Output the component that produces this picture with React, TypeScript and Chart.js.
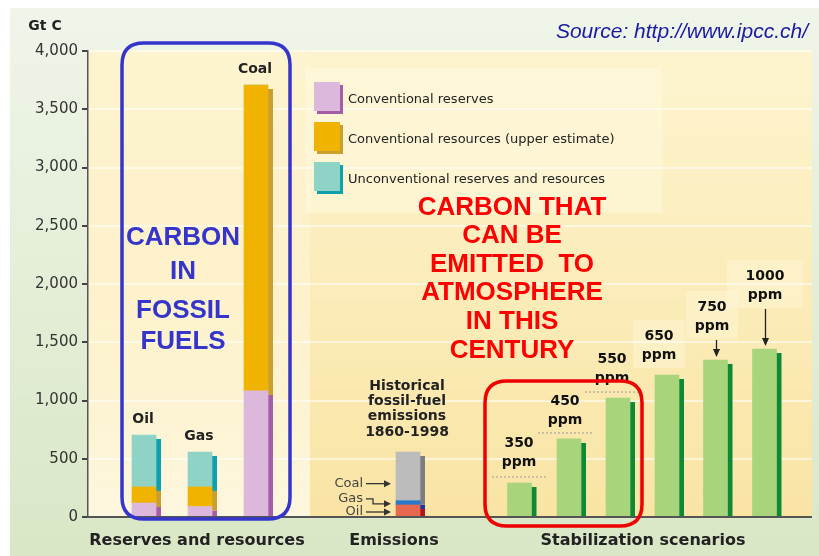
import { useEffect, useRef } from "react";
import { Chart, registerables } from "chart.js";

Chart.register(...registerables);

// ---------- DATA ----------
const fuelLabels = ["Oil", "Gas", "Coal"];
const fuelX = [5.6, 11.2, 16.8];
const conventionalReserves = [120, 90, 1082];
const conventionalResources = [138, 168, 2626];
const unconventional = [446, 300, 0];

const legendLabels = [
  "Conventional reserves",
  "Conventional resources (upper estimate)",
  "Unconventional reserves and resources",
];

const emissionsX = [32];
const histOil = [103];
const histGas = [37];
const histCoal = [418];
const histLabels = ["Coal", "Gas", "Oil"];
const histTitle = ["Historical", "fossil-fuel", "emissions", "1860-1998"];

const scenarioLabels = ["350", "450", "550", "650", "750", "1000"];
const scenarioX = [43.15, 48.1, 53.0, 57.9, 62.75, 67.65];
const scenarioValues = [292, 670, 1021, 1219, 1348, 1442];

const yTicks = [0, 500, 1000, 1500, 2000, 2500, 3000, 3500, 4000];
const sectionLabels = ["Reserves and resources", "Emissions", "Stabilization scenarios"];
const blueText = ["CARBON", "IN", "FOSSIL", "FUELS"];
const redText = ["CARBON THAT", "CAN BE", "EMITTED  TO", "ATMOSPHERE", "IN THIS", "CENTURY"];

// ---------- STYLE ----------
const C_PINK = "#dcb9dc";
const C_ORANGE = "#f0b400";
const C_TEAL = "#8fd2c6";
const C_RED = "#e8674f";
const C_BLUE = "#2a78c8";
const C_GRAY = "#bcbcbc";
const C_GREEN = "#a8d47c";
const shadowColors = ["#a45ea6", "#c9a030", "#0fa0ae", "#b0141c", "#18389c", "#7e7e7e", "#0e8a34"];
const ppmLift = [40, 38, 39, 39, 53, 73];
const ppmShift = [-0.5, -4, -6, -8, -3.5, 0.5];

function pts(xs: number[], ys: number[]) {
  return xs.map((x, i) => ({ x, y: ys[i] }));
}

function txt(ctx: CanvasRenderingContext2D, s: string, x: number, y: number, font: string, color: string, align: CanvasTextAlign = "center") {
  ctx.save();
  ctx.font = font;
  ctx.fillStyle = color;
  ctx.textAlign = align;
  ctx.textBaseline = "middle";
  ctx.fillText(s, x, y);
  ctx.restore();
}

function roundRect(ctx: CanvasRenderingContext2D, x: number, y: number, w: number, h: number, r: number) {
  ctx.beginPath();
  ctx.moveTo(x + r, y);
  ctx.lineTo(x + w - r, y);
  ctx.quadraticCurveTo(x + w, y, x + w, y + r);
  ctx.lineTo(x + w, y + h - r);
  ctx.quadraticCurveTo(x + w, y + h, x + w - r, y + h);
  ctx.lineTo(x + r, y + h);
  ctx.quadraticCurveTo(x, y + h, x, y + h - r);
  ctx.lineTo(x, y + r);
  ctx.quadraticCurveTo(x, y, x + r, y);
  ctx.closePath();
}

function arrowHead(ctx: CanvasRenderingContext2D, x: number, y: number, dir: "right" | "down") {
  ctx.beginPath();
  if (dir === "right") {
    ctx.moveTo(x, y);
    ctx.lineTo(x - 7, y - 3.5);
    ctx.lineTo(x - 7, y + 3.5);
  } else {
    ctx.moveTo(x, y);
    ctx.lineTo(x - 3.5, y - 8);
    ctx.lineTo(x + 3.5, y - 8);
  }
  ctx.closePath();
  ctx.fill();
}

function ppmPos(chart: any, i: number) {
  const xs = chart.scales.x;
  const ys = chart.scales.y;
  const cx = xs.getPixelForValue(scenarioX[i]) + ppmShift[i];
  const top = ys.getPixelForValue(scenarioValues[i]);
  return { cx, top, y1: top - ppmLift[i] };
}

const bgPlugin = {
  id: "bg",
  beforeDraw(chart: any) {
    const ctx = chart.ctx as CanvasRenderingContext2D;
    const { left, right, top, bottom } = chart.chartArea;
    ctx.save();
    ctx.fillStyle = "#ffffff";
    ctx.fillRect(0, 0, chart.width, chart.height);
    const g = ctx.createLinearGradient(0, 8, 0, chart.height);
    g.addColorStop(0, "#eff5e9");
    g.addColorStop(1, "#d9e7c6");
    ctx.fillStyle = g;
    ctx.fillRect(10, 8, chart.width - 10, chart.height - 8);
    // panel
    const pg = ctx.createLinearGradient(0, top, 0, bottom);
    pg.addColorStop(0, "#fdf4cf");
    pg.addColorStop(1, "#f9e4a4");
    ctx.fillStyle = pg;
    ctx.fillRect(left, top - 1, right - left, bottom - top + 1);
    // lighter reserves band
    const rg = ctx.createLinearGradient(0, top, 0, bottom);
    rg.addColorStop(0, "rgba(254,246,214,0.1)");
    rg.addColorStop(1, "rgba(254,248,226,0.95)");
    ctx.fillStyle = rg;
    ctx.fillRect(left, top - 1, 222, bottom - top + 1);
    // legend box bg
    ctx.fillStyle = "rgba(255,250,228,0.45)";
    ctx.fillRect(305, 68, 357, 145);
    // ppm label boxes
    ctx.fillStyle = "rgba(254,246,214,0.5)";
    for (let i = 3; i < scenarioLabels.length; i++) {
      const { cx, y1 } = ppmPos(chart, i);
      const hw = i === 5 ? 38 : 26;
      ctx.fillRect(cx - hw, y1 - 16, hw * 2, 48);
    }
    ctx.restore();
  },
  beforeDatasetsDraw(chart: any) {
    const ctx = chart.ctx as CanvasRenderingContext2D;
    const base = chart.chartArea.bottom;
    ctx.save();
    chart.data.datasets.forEach((_: any, di: number) => {
      const meta = chart.getDatasetMeta(di);
      meta.data.forEach((bar: any) => {
        const p = bar.getProps(["x", "y", "base", "width"], true);
        const t = Math.min(p.y, p.base);
        const b = Math.max(p.y, p.base);
        if (b - t < 0.5) return;
        const y0 = t + 4;
        const y1 = Math.min(b + 4, base);
        if (y1 <= y0) return;
        ctx.fillStyle = shadowColors[di];
        ctx.fillRect(p.x + p.width / 2 - 0.5, y0, 5.5, y1 - y0);
      });
    });
    ctx.restore();
  },
  afterDraw(chart: any) {
    const ctx = chart.ctx as CanvasRenderingContext2D;
    const { left, right, bottom } = chart.chartArea;
    const xs = chart.scales.x;
    const ys = chart.scales.y;
    ctx.save();
    // baseline
    ctx.strokeStyle = "#555";
    ctx.lineWidth = 2;
    ctx.beginPath();
    ctx.moveTo(left, bottom);
    ctx.lineTo(right, bottom);
    ctx.stroke();

    const B = "bold 14px 'DejaVu Sans'";
    txt(ctx, "Gt C", 45, 26, B, "#222");
    txt(ctx, "Source: http://www.ipcc.ch/", 808, 32, "italic 21px 'Liberation Sans'", "#1a1aa0", "right");

    // fuel labels
    const fuelTops = fuelX.map((_, i) => conventionalReserves[i] + conventionalResources[i] + unconventional[i]);
    fuelLabels.forEach((l, i) => {
      txt(ctx, l, xs.getPixelForValue(fuelX[i]) - 1, ys.getPixelForValue(fuelTops[i]) - 16, B, "#222");
    });

    // legend
    const lc = [C_PINK, C_ORANGE, C_TEAL];
    const ls = [shadowColors[0], shadowColors[1], shadowColors[2]];
    legendLabels.forEach((l, i) => {
      const y = 82 + i * 40;
      ctx.fillStyle = ls[i];
      ctx.fillRect(317, y + 3, 26, 29);
      ctx.fillStyle = lc[i];
      ctx.fillRect(314, y, 26, 29);
      txt(ctx, l, 348, y + 18, "13px 'DejaVu Sans'", "#222", "left");
    });

    // historical
    const ex = xs.getPixelForValue(emissionsX[0]);
    histTitle.forEach((l, i) => txt(ctx, l, ex - 1, 386 + i * 15.3, B, "#222"));
    ctx.fillStyle = "#333";
    ctx.strokeStyle = "#333";
    ctx.lineWidth = 1.3;
    const F = "13px 'DejaVu Sans'";
    const coalY = ys.getPixelForValue(histOil[0] + histGas[0] + histCoal[0] * 0.35);
    txt(ctx, histLabels[0], 363, coalY, F, "#444", "right");
    ctx.beginPath(); ctx.moveTo(366, coalY); ctx.lineTo(388, coalY); ctx.stroke();
    arrowHead(ctx, 391, coalY, "right");
    const gasY = ys.getPixelForValue(histOil[0] + histGas[0] / 2);
    txt(ctx, histLabels[1], 363, gasY - 4, F, "#444", "right");
    ctx.beginPath(); ctx.moveTo(366, gasY - 4); ctx.lineTo(373, gasY - 4); ctx.lineTo(373, gasY + 1); ctx.lineTo(388, gasY + 1); ctx.stroke();
    arrowHead(ctx, 391, gasY + 1, "right");
    const oilY = ys.getPixelForValue(histOil[0] / 2) + 1;
    txt(ctx, histLabels[2], 363, oilY, F, "#444", "right");
    ctx.beginPath(); ctx.moveTo(366, oilY); ctx.lineTo(388, oilY); ctx.stroke();
    arrowHead(ctx, 391, oilY, "right");

    // ppm labels
    scenarioLabels.forEach((l, i) => {
      const { cx, top, y1 } = ppmPos(chart, i);
      txt(ctx, l, cx, y1, B, "#111");
      txt(ctx, "ppm", cx, y1 + 19, B, "#111");
      if (i < 3) {
        ctx.save();
        ctx.strokeStyle = "#999";
        ctx.lineWidth = 1;
        ctx.setLineDash([2, 2]);
        ctx.beginPath();
        ctx.moveTo(cx - 27, top - 6);
        ctx.lineTo(cx + 27, top - 6);
        ctx.stroke();
        ctx.restore();
      }
      if (i >= 4) {
        const ax = xs.getPixelForValue(scenarioX[i]) + 1;
        ctx.strokeStyle = "#222";
        ctx.fillStyle = "#222";
        ctx.lineWidth = 1.3;
        ctx.beginPath();
        ctx.moveTo(ax, y1 + 19 + 14);
        ctx.lineTo(ax, top - 5);
        ctx.stroke();
        arrowHead(ctx, ax, top - 3, "down");
      }
    });

    // section labels
    const SB = "bold 16px 'DejaVu Sans'";
    txt(ctx, sectionLabels[0], 197, 541, SB, "#222");
    txt(ctx, sectionLabels[1], 394, 541, SB, "#222");
    txt(ctx, sectionLabels[2], 643, 541, SB, "#222");

    // blue box and text
    ctx.strokeStyle = "#3535cc";
    ctx.lineWidth = 3.5;
    roundRect(ctx, 122, 43, 168, 476, 22);
    ctx.stroke();
    const BT = "bold 26px 'Liberation Sans'";
    const by = [238, 272, 311, 342];
    blueText.forEach((l, i) => txt(ctx, l, 183, by[i], BT, "#3535cc"));

    // red box and text
    ctx.strokeStyle = "#ee0000";
    ctx.lineWidth = 3.5;
    roundRect(ctx, 485, 381, 157, 145, 22);
    ctx.stroke();
    redText.forEach((l, i) => txt(ctx, l, 512, 207.5 + i * 28.6, BT, "#ff0000"));
    ctx.restore();
  },
};

export default function App() {
  const ref = useRef<HTMLCanvasElement>(null);
  useEffect(() => {
    document.body.style.margin = "0";
    const canvas = ref.current!;
    const chart = new Chart(canvas, {
      type: "bar",
      data: {
        datasets: [
          { label: legendLabels[0], data: pts(fuelX, conventionalReserves), backgroundColor: C_PINK, stack: "s" },
          { label: legendLabels[1], data: pts(fuelX, conventionalResources), backgroundColor: C_ORANGE, stack: "s" },
          { label: legendLabels[2], data: pts(fuelX, unconventional), backgroundColor: C_TEAL, stack: "s" },
          { label: "Oil", data: pts(emissionsX, histOil), backgroundColor: C_RED, stack: "s" },
          { label: "Gas", data: pts(emissionsX, histGas), backgroundColor: C_BLUE, stack: "s" },
          { label: "Coal", data: pts(emissionsX, histCoal), backgroundColor: C_GRAY, stack: "s" },
          { label: "Stabilization", data: pts(scenarioX, scenarioValues), backgroundColor: C_GREEN, stack: "s" },
        ] as any,
      },
      options: {
        responsive: false,
        animation: false,
        devicePixelRatio: 1,
        layout: { padding: { left: 0, top: 51, right: 7, bottom: 39 } },
        datasets: { bar: { barThickness: 24, borderWidth: 0 } } as any,
        plugins: { legend: { display: false }, tooltip: { enabled: false } },
        scales: {
          x: { type: "linear", min: 0, max: 72.4, offset: false, display: false },
          y: {
            stacked: true,
            min: 0,
            max: 4000,
            afterFit: (s: any) => { s.width = 88; },
            afterBuildTicks: (s: any) => { s.ticks = yTicks.map((v) => ({ value: v })); },
            ticks: {
              color: "#333",
              padding: 4,
              font: { family: "'DejaVu Sans'", size: 15 },
              callback: (v: any) => Number(v).toLocaleString("en-US"),
            },
            grid: {
              color: "rgba(255,255,255,0.55)",
              lineWidth: 2,
              tickColor: "#444",
              tickLength: 6,
            },
            border: { color: "#555", width: 1.5 },
          },
        },
      } as any,
      plugins: [bgPlugin],
    });
    return () => chart.destroy();
  }, []);
  return (
    <div style={{ width: 819, height: 556 }}>
      <canvas ref={ref} width={819} height={556} style={{ display: "block", width: 819, height: 556 }} />
    </div>
  );
}
